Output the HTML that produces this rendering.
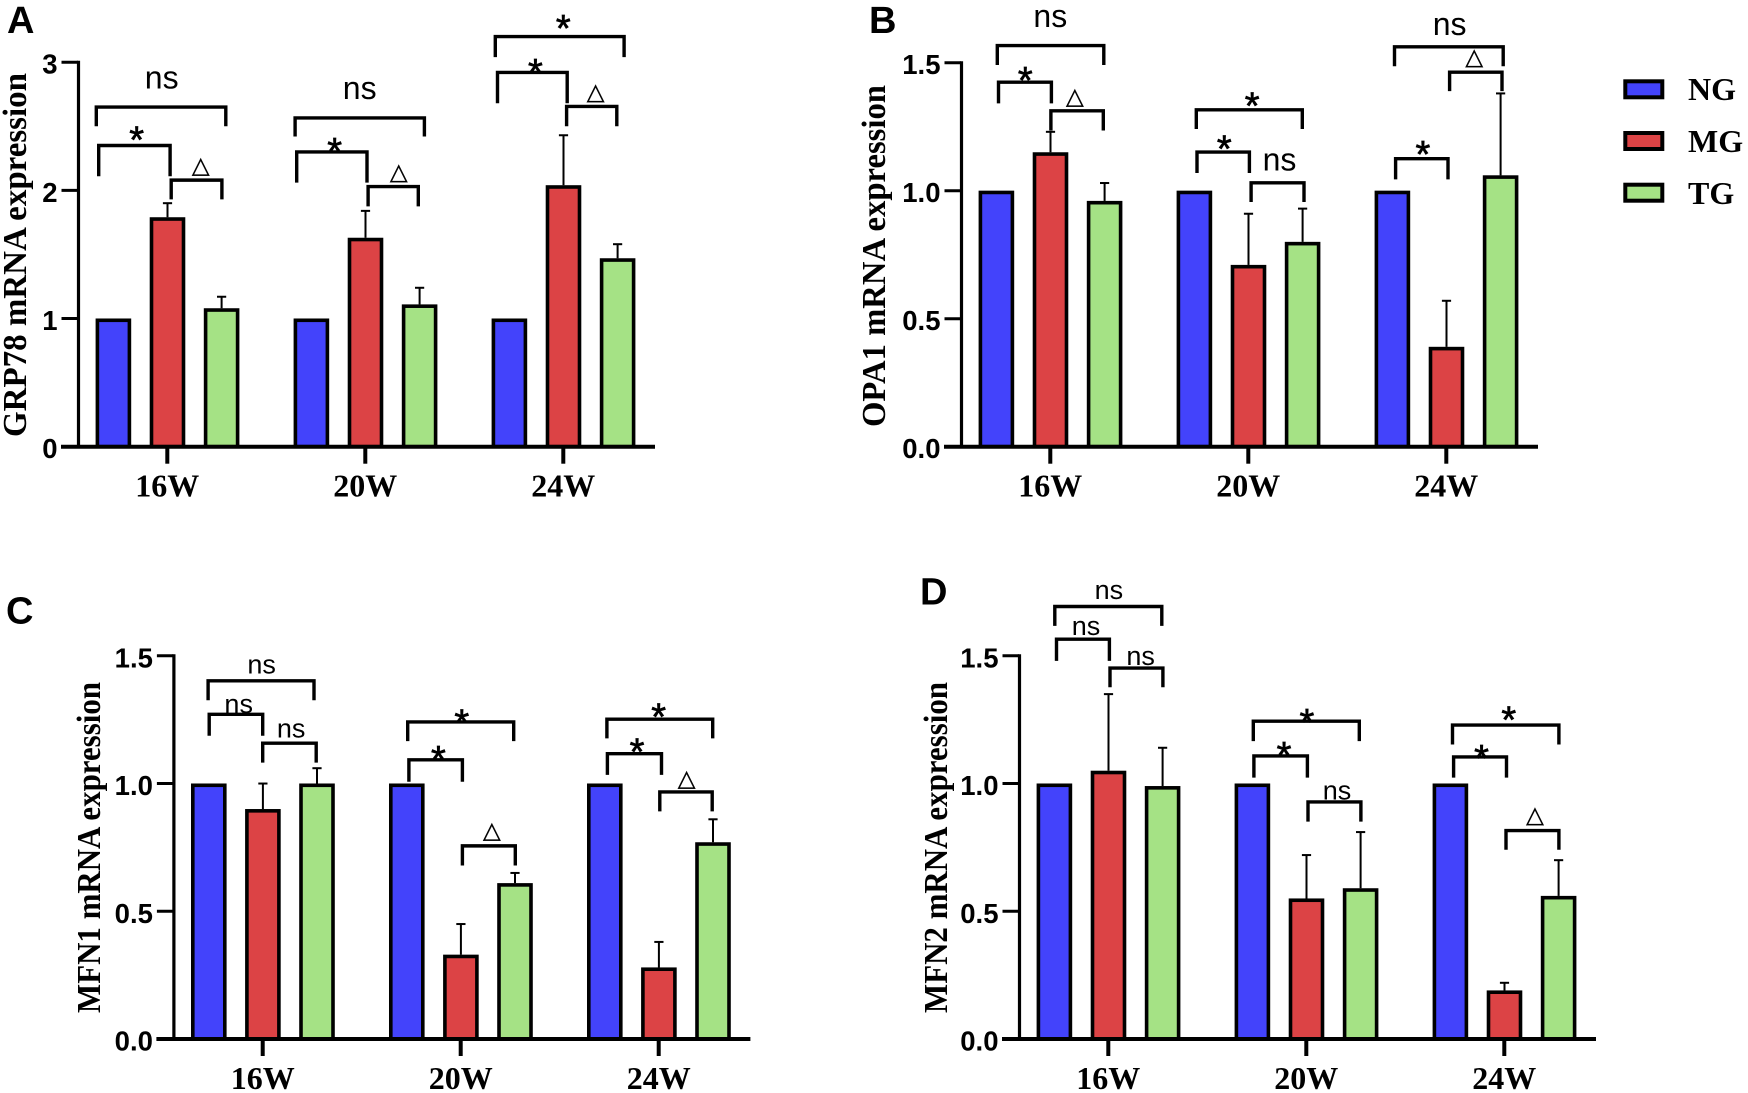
<!DOCTYPE html>
<html lang="en">
<head>
<meta charset="utf-8">
<title>mRNA expression bar charts</title>
<style>
html,body{margin:0;padding:0;background:#fff;width:1748px;height:1093px;overflow:hidden}
svg{display:block}
.tick{font:bold 27.5px "Liberation Sans",sans-serif;fill:#000}
.cat{font:bold 32px "Liberation Serif",serif;fill:#000}
.title{font:bold 34px "Liberation Serif",serif;fill:#000}
.letter{font:bold 38px "Liberation Sans",sans-serif;fill:#000}
.leg{font:bold 32px "Liberation Serif",serif;fill:#000}
</style>
</head>
<body>
<svg id="chart" xmlns="http://www.w3.org/2000/svg" width="1748" height="1093" viewBox="0 0 1748 1093"></svg>
<script>
// ---- data ----
const categories = ['16W', '20W', '24W'];
const seriesNames = ['NG', 'MG', 'TG'];

const grp78Ng = [1, 1, 1];
const grp78Mg = [1.79, 1.63, 2.04];
const grp78Tg = [1.08, 1.11, 1.47];
const grp78MgErr = [0.11, 0.21, 0.39];
const grp78TgErr = [0.09, 0.13, 0.11];
const grp78Ticks = ['0', '1', '2', '3'];

const opa1Ng = [1, 1, 1];
const opa1Mg = [1.15, 0.71, 0.39];
const opa1Tg = [0.96, 0.80, 1.06];
const opa1MgErr = [0.08, 0.20, 0.18];
const opa1TgErr = [0.07, 0.13, 0.32];
const opa1Ticks = ['0.0', '0.5', '1.0', '1.5'];

const mfn1Ng = [1, 1, 1];
const mfn1Mg = [0.90, 0.33, 0.28];
const mfn1Tg = [1.00, 0.61, 0.77];
const mfn1MgErr = [0.10, 0.12, 0.10];
const mfn1TgErr = [0.06, 0.04, 0.09];
const mfn1Ticks = ['0.0', '0.5', '1.0', '1.5'];

const mfn2Ng = [1, 1, 1];
const mfn2Mg = [1.05, 0.55, 0.19];
const mfn2Tg = [0.99, 0.59, 0.56];
const mfn2MgErr = [0.30, 0.17, 0.03];
const mfn2TgErr = [0.15, 0.22, 0.14];
const mfn2Ticks = ['0.0', '0.5', '1.0', '1.5'];

// ---- layout ----
const COLORS = ['#4343fb', '#dc4345', '#a5e285'];
const NS = 'http://www.w3.org/2000/svg';
const root = document.getElementById('chart');

function mk(tag, attrs, parent, text) {
  const e = document.createElementNS(NS, tag);
  for (const k in attrs) e.setAttribute(k, attrs[k]);
  if (text !== undefined) e.textContent = text;
  parent.appendChild(e);
  return e;
}

function makePanel(cfg) {
  const g = mk('g', {}, root);
  
  
  const p = Object.assign({ g: g }, cfg);
  p.y = v => p.y0 - v * (p.y0 - p.yTop) / p.max;
  p.x = i => p.axisX + 89.3 + 198 * i;
  p.barX = (i, s) => p.x(i) + 0.2 + (s - 1) * 54.1;

  const letter = mk('text', { x: p.letterX, y: p.letterY, class: 'letter' }, g, p.letter);
  
  

  const title = mk('text', {
    class: 'title', 'text-anchor': 'middle',
    transform: 'translate(' + p.titleX + ',' + p.titleY + ') rotate(-90)',
    textLength: p.titleLen, lengthAdjust: 'spacingAndGlyphs'
  }, g, p.title);
  
  

  // bars
  p.series.forEach((vals, s) => {
    vals.forEach((v, i) => {
      const cx = p.barX(i, s);
      const err = p.errs[s] ? p.errs[s][i] : 0;
      if (err) {
        const stem = mk('line', { x1: cx, x2: cx, y1: p.y(v), y2: p.y(v + err), stroke: '#000', 'stroke-width': 2 }, g);
        
        
        const cap = mk('line', { x1: cx - 4.6, x2: cx + 4.6, y1: p.y(v + err), y2: p.y(v + err), stroke: '#000', 'stroke-width': 2 }, g);
        
        
      }
      const barTop = p.y(v) + 1.75;
      const bar = mk('rect', {
        x: cx - 16, y: barTop, width: 32, height: p.y(0) - barTop,
        fill: COLORS[s], stroke: '#000', 'stroke-width': 3.6
      }, g);
      
      
    });
  });

  // y axis
  const yLine = mk('line', { x1: p.axisX + 0.5, x2: p.axisX + 0.5, y1: p.yTop - 1.5, y2: p.y0, stroke: '#000', 'stroke-width': 3.2 }, g);
  
  
  p.ticks.forEach((t, k) => {
    const v = parseFloat(t);
    const tk = mk('line', { x1: p.axisX - 16.5, x2: p.axisX, y1: p.y(v), y2: p.y(v), stroke: '#000', 'stroke-width': 3 }, g);
    
    
    const lb = mk('text', { x: p.axisX - 20.5, y: p.y(v) + 11.5, class: 'tick', 'text-anchor': 'end' }, g, t);
    
    
  });

  // x axis
  const xLine = mk('line', { x1: p.axisX - 17, x2: p.axisX + 577, y1: p.y0, y2: p.y0, stroke: '#000', 'stroke-width': 4 }, g);
  
  
  categories.forEach((c, i) => {
    const tk = mk('line', { x1: p.x(i), x2: p.x(i), y1: p.y0, y2: p.y0 + 17, stroke: '#000', 'stroke-width': 4 }, g);
    
    
    const lb = mk('text', { x: p.x(i), y: p.y0 + 50, class: 'cat', 'text-anchor': 'middle' }, g, c);
    
    
  });
  return p;
}

// significance bracket: group index, px offsets from the group tick, then y-values
function bracket(p, i, dx1, dx2, top, foot, label, lx, lv) {
  const x1 = p.x(i) + dx1, x2 = p.x(i) + dx2, yt = p.y(top), yf = p.y(foot);
  const path = mk('path', {
    d: 'M' + x1 + ' ' + yf + 'V' + yt + 'H' + x2 + 'V' + yf,
    fill: 'none', stroke: '#000', 'stroke-width': 3.4
  }, p.g);
  
  
  const cx = p.x(i) + lx, cy = p.y(lv);
  let t;
  if (label === '*') {
    t = mk('text', { x: cx, y: cy + 20, 'text-anchor': 'middle', stroke: '#000', 'stroke-width': 0.7, style: 'font:38px "Liberation Sans",sans-serif' }, p.g, '*');
  } else if (label === 'ns') {
    t = mk('text', { x: cx, y: cy + 8.5, 'text-anchor': 'middle', style: 'font:' + p.nsSize + 'px "Liberation Sans",sans-serif' }, p.g, 'ns');
  } else {
    t = mk('text', { x: cx, y: cy + 4.5, 'text-anchor': 'middle', stroke: '#000', 'stroke-width': 0.4, style: 'font:23px "DejaVu Sans",sans-serif' }, p.g, '\u25B3');
  }
  
  
}

const panelA = makePanel({
  key: 'grp78', letter: 'A', letterX: 7, letterY: 33, axisX: 78, y0: 446.7, yTop: 62.2, max: 3,
  title: 'GRP78 mRNA expression', titleX: 26, titleY: 255, titleLen: 364, nsSize: 32,
  series: [grp78Ng, grp78Mg, grp78Tg], errs: [null, grp78MgErr, grp78TgErr], ticks: grp78Ticks
});
const panelB = makePanel({
  key: 'opa1', letter: 'B', letterX: 869, letterY: 33, axisX: 961, y0: 446.7, yTop: 62.7, max: 1.5,
  title: 'OPA1 mRNA expression', titleX: 885, titleY: 256, titleLen: 342, nsSize: 32,
  series: [opa1Ng, opa1Mg, opa1Tg], errs: [null, opa1MgErr, opa1TgErr], ticks: opa1Ticks
});
const panelC = makePanel({
  key: 'mfn1', letter: 'C', letterX: 6, letterY: 623.5, axisX: 173.4, y0: 1039, yTop: 655.8, max: 1.5,
  title: 'MFN1 mRNA expression', titleX: 100, titleY: 847.5, titleLen: 331, nsSize: 27,
  series: [mfn1Ng, mfn1Mg, mfn1Tg], errs: [null, mfn1MgErr, mfn1TgErr], ticks: mfn1Ticks
});
const panelD = makePanel({
  key: 'mfn2', letter: 'D', letterX: 920, letterY: 604.5, axisX: 1019, y0: 1039, yTop: 655.8, max: 1.5,
  title: 'MFN2 mRNA expression', titleX: 947, titleY: 847.5, titleLen: 331, nsSize: 27,
  series: [mfn2Ng, mfn2Mg, mfn2Tg], errs: [null, mfn2MgErr, mfn2TgErr], ticks: mfn2Ticks
});

// Panel A brackets
bracket(panelA, 0, -71, 58.5, 2.65, 2.50, 'ns', -5.6, 2.86);
bracket(panelA, 0, -68.6, 2.8, 2.35, 2.11, '*', -30.7, 2.45);
bracket(panelA, 0, 3.9, 54.6, 2.08, 1.93, 'd', 33.4, 2.17);
bracket(panelA, 1, -70.2, 59.1, 2.565, 2.42, 'ns', -5.6, 2.78);
bracket(panelA, 1, -68.6, 1.7, 2.30, 2.06, '*', -30.7, 2.36);
bracket(panelA, 1, 2.8, 53, 2.03, 1.875, 'd', 33.4, 2.12);
bracket(panelA, 2, -68, 60.8, 3.20, 3.04, '*', 0, 3.32);
bracket(panelA, 2, -65.8, 3.9, 2.92, 2.68, '*', -27.9, 2.98);
bracket(panelA, 2, 3.3, 53.5, 2.655, 2.5, 'd', 32.3, 2.745);
// Panel B brackets
bracket(panelB, 0, -53, 53.5, 1.567, 1.491, 'ns', 0, 1.673);
bracket(panelB, 0, -51.8, 1.1, 1.424, 1.341, '*', -25, 1.459);
bracket(panelB, 0, 0.6, 53, 1.312, 1.235, 'd', 24.5, 1.356);
bracket(panelB, 1, -52, 54, 1.316, 1.241, '*', 3.9, 1.361);
bracket(panelB, 1, -51.3, 1.1, 1.151, 1.069, '*', -24, 1.193);
bracket(panelB, 1, 2.8, 55.7, 1.031, 0.956, 'ns', 31.2, 1.112);
bracket(panelB, 2, -51.8, 56.9, 1.562, 1.486, 'ns', 3.3, 1.642);
bracket(panelB, 2, 3.3, 55.7, 1.463, 1.389, 'd', 27.9, 1.51);
bracket(panelB, 2, -50.7, 1.7, 1.125, 1.044, '*', -23.4, 1.17);
// Panel C brackets
bracket(panelC, 0, -54.6, 51.3, 1.402, 1.326, 'ns', -1.1, 1.464);
bracket(panelC, 0, -53.5, 0, 1.271, 1.187, 'ns', -24, 1.31);
bracket(panelC, 0, 0, 53.5, 1.158, 1.082, 'ns', 28.4, 1.214);
bracket(panelC, 1, -53, 53, 1.241, 1.166, '*', 1.1, 1.266);
bracket(panelC, 1, -51.8, 1.7, 1.093, 1.007, '*', -22.3, 1.123);
bracket(panelC, 1, 1.7, 54.6, 0.756, 0.679, 'd', 31.2, 0.805);
bracket(panelC, 2, -51.8, 54, 1.252, 1.177, '*', 0, 1.289);
bracket(panelC, 2, -51.3, 2.8, 1.117, 1.034, '*', -21.7, 1.153);
bracket(panelC, 2, 1.1, 53.5, 0.967, 0.891, 'd', 27.9, 1.007);
// Panel D brackets
bracket(panelD, 0, -53.5, 53.5, 1.693, 1.617, 'ns', 0.6, 1.756);
bracket(panelD, 0, -51.8, 1.1, 1.565, 1.48, 'ns', -22.3, 1.614);
bracket(panelD, 0, 1.7, 54.6, 1.452, 1.377, 'ns', 32.3, 1.497);
bracket(panelD, 1, -53, 53, 1.244, 1.166, '*', 0.6, 1.269);
bracket(panelD, 1, -52.4, 1.1, 1.108, 1.023, '*', -22.3, 1.139);
bracket(panelD, 1, 1.7, 54.6, 0.928, 0.851, 'ns', 30.7, 0.971);
bracket(panelD, 2, -51.8, 54.6, 1.229, 1.153, '*', 4.5, 1.278);
bracket(panelD, 2, -50.7, 2.2, 1.104, 1.023, '*', -22.8, 1.128);
bracket(panelD, 2, 1.7, 54.6, 0.816, 0.741, 'd', 30.7, 0.866);

// Legend
const legend = mk('g', {}, root);


seriesNames.forEach((n, s) => {
  const top = 81.3 + s * 51.7;
  const sw = mk('rect', { x: 1625.3, y: top, width: 37, height: 16, fill: COLORS[s], stroke: '#000', 'stroke-width': 4 }, legend);
  
  
  const lb = mk('text', { x: 1688, y: 100 + s * 52, class: 'leg' }, legend, n);
  
  
});
</script>
</body>
</html>
